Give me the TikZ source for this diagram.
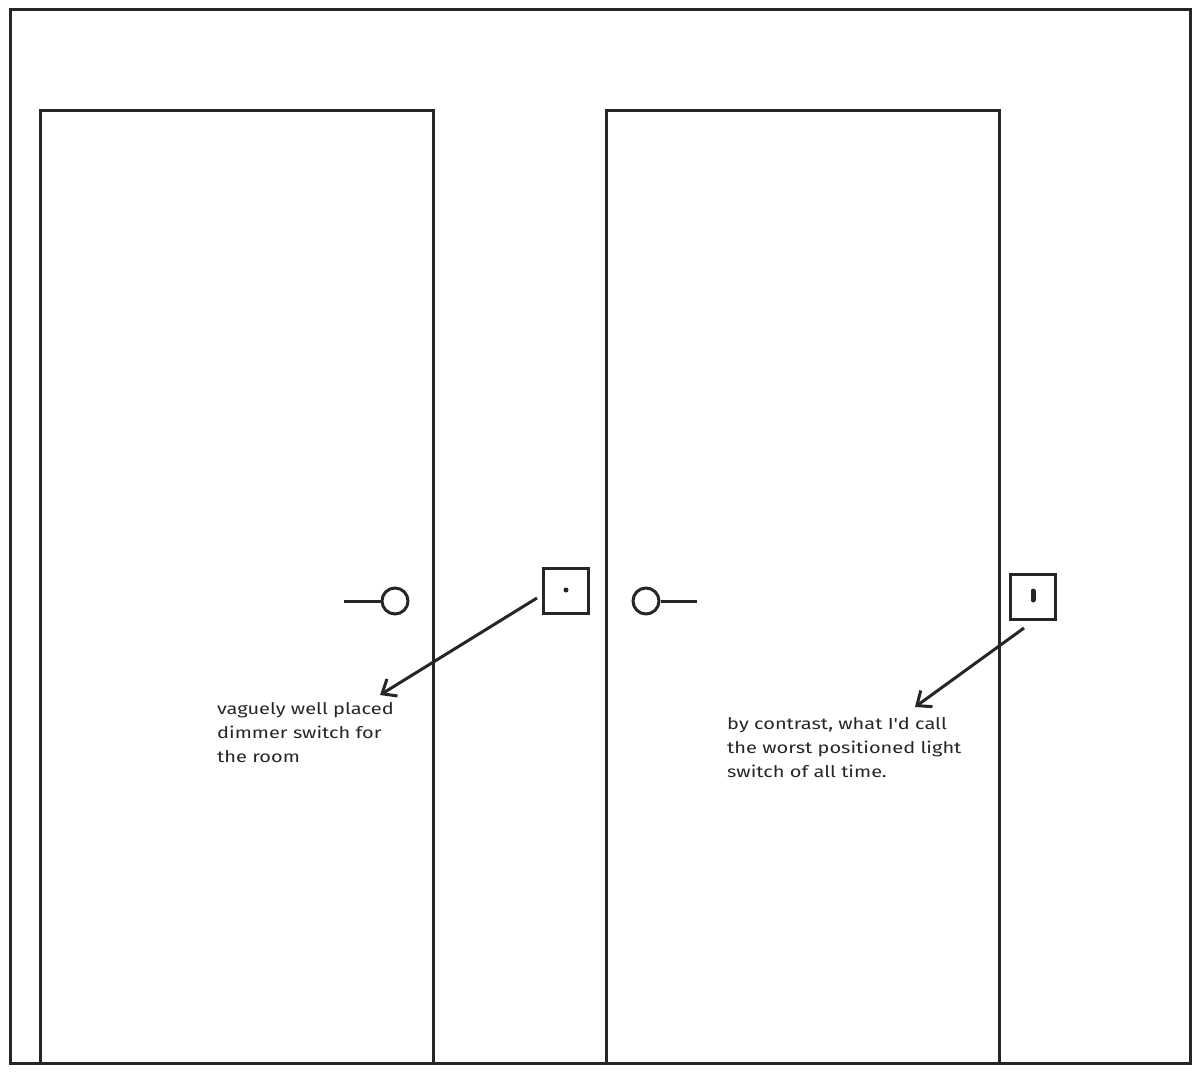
\documentclass[tikz,border=0pt]{standalone}
\usepackage{fontspec}
\setmainfont{Fira Sans}
\newfontfamily\handfont[FakeStretch=1.25]{Fira Sans}
\usetikzlibrary{arrows.meta}
\begin{document}
\begin{tikzpicture}[x=1pt,y=-1pt,
  ln/.style={line width=3pt,draw=black!85},
  lbl/.style={anchor=north west,align=left,font=\handfont\fontsize{16}{24}\selectfont,inner sep=0pt,text=black!85}]
\useasboundingbox (0,0) rectangle (1200,1073);
\draw[ln] (10,10) rectangle (1190,1063);
\draw[ln] (40,1063) -- (40,110) -- (433,110) -- (433,1063);
\draw[ln] (606,1063) -- (606,110) -- (999,110) -- (999,1063);
\node[ln,circle,minimum size=26pt,inner sep=0pt] (h1) at (395,601) {};
\coordinate (h1e) at (344,601);
\draw[ln] (h1e) -- (h1.west);
\node[ln,circle,minimum size=26pt,inner sep=0pt] (h2) at (646,601) {};
\coordinate (h2e) at (697,601);
\draw[ln] (h2.east) -- (h2e);
\node[ln,rectangle,minimum size=45pt,inner sep=0pt] (s1) at (566,591) {};
\fill[black!85] (566,590) circle (2.5pt);
\node[ln,rectangle,minimum size=45pt,inner sep=0pt] (s2) at (1033,597) {};
\draw[line width=5pt,line cap=round,black!85] (1033,591) -- (1033,600);
\node[lbl] (t1) at (217,702) {vaguely well placed\\dimmer switch for\\the room};
\node[lbl] (t2) at (727,717) {by contrast, what I'd call\\the worst positioned light\\switch of all time.};
\coordinate (a1s) at (537,598); \coordinate (a1e) at (380,695);
\coordinate (a2s) at (1024,628); \coordinate (a2e) at (915,707);
\draw[ln,-{Straight Barb[length=12pt,width=20pt]}] (a1s) -- (a1e);
\draw[ln,-{Straight Barb[length=12pt,width=20pt]}] (a2s) -- (a2e);
\end{tikzpicture}
\end{document}
